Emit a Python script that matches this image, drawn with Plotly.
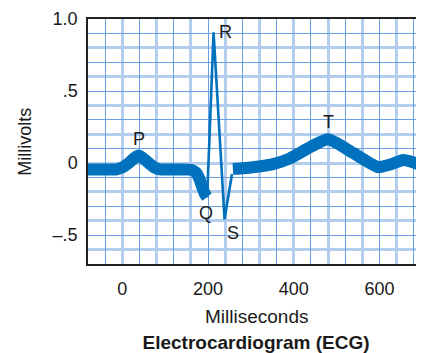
import plotly.graph_objects as go

# ---- data (ms, mV) ----
pwave_ms = [-80, -40, -15, 0, 15, 28, 38, 48, 62, 75, 88, 120, 160, 172, 180, 187, 193, 198]
pwave_mv = [-0.044, -0.044, -0.044, -0.03, 0.0, 0.035, 0.052, 0.035, 0.0, -0.03, -0.044, -0.044, -0.046, -0.065, -0.11, -0.17, -0.215, -0.235]

qrs_ms = [198, 213, 238.6, 256]
qrs_mv = [-0.238, 0.907, -0.39, -0.075]

stt_ms = [258, 275, 314, 352, 391, 430, 480, 539, 597, 625, 655, 680, 706]
stt_mv = [-0.04, -0.037, -0.025, -0.007, 0.033, 0.097, 0.165, 0.07, -0.028, -0.01, 0.021, 0.005, -0.027]

wave_labels = ["P", "Q", "R", "S", "T"]
label_ms = [38.6, 196, 241, 258, 480.5]
label_mv = [0.17, -0.345, 0.91, -0.488, 0.287]

x_ticks = [0, 200, 400, 600]
y_ticks = [1.0, 0.5, 0.0, -0.5]
y_ticktext = ["1.0", ".5", "0", "\u2013.5"]

XR = [-80, 704]
YR = [-0.7, 1.0]
BLUE = "#0071bc"
FONT = "Liberation Sans, Arial, Helvetica, sans-serif"
TXT = "#1a1a1a"
W, H = 416, 345

fig = go.Figure()

# invisible traces to bind grid overlay axes
fig.add_trace(go.Scatter(x=[XR[0]], y=[YR[0]], xaxis="x2", yaxis="y2", mode="markers",
                         marker=dict(opacity=0), showlegend=False, hoverinfo="skip"))
fig.add_trace(go.Scatter(x=[XR[0]], y=[YR[0]], xaxis="x3", yaxis="y3", mode="markers",
                         marker=dict(opacity=0), showlegend=False, hoverinfo="skip"))

fig.add_trace(go.Scatter(x=pwave_ms, y=pwave_mv, mode="lines",
                         line=dict(color=BLUE, width=12, shape="spline", smoothing=0.6),
                         showlegend=False))
fig.add_trace(go.Scatter(x=stt_ms, y=stt_mv, mode="lines",
                         line=dict(color=BLUE, width=12, shape="spline", smoothing=0.5),
                         showlegend=False))
fig.add_trace(go.Scatter(x=qrs_ms, y=qrs_mv, mode="lines",
                         line=dict(color=BLUE, width=2.6),
                         showlegend=False))

for t, xm, ym in zip(wave_labels, label_ms, label_mv):
    fig.add_annotation(x=xm, y=ym, text=t, showarrow=False,
                       font=dict(family=FONT, size=18, color=TXT))

fig.add_annotation(xref="paper", yref="paper", x=-0.19, y=0.5, text="Millivolts",
                   textangle=-90, showarrow=False, xanchor="center", yanchor="middle",
                   font=dict(family=FONT, size=18, color=TXT))
fig.add_annotation(xref="paper", yref="paper", x=0.5, y=-0.216, text="Milliseconds",
                   showarrow=False, xanchor="center", yanchor="middle",
                   font=dict(family=FONT, size=19, color=TXT))

LIGHT = "#b2cdee"
MED = "#6a9ee0"

fig.update_layout(
    width=W, height=H,
    margin=dict(l=80, r=0, t=11, b=89),
    paper_bgcolor="white", plot_bgcolor="white",
    title=dict(text="<b>Electrocardiogram (ECG)</b>", x=0.5, xref="paper", xanchor="center",
               y=(H - 334) / H, yanchor="middle",
               font=dict(family=FONT, size=19, color=TXT)),
    xaxis=dict(range=XR, tickvals=x_ticks, showgrid=False, zeroline=False,
               showline=True, linecolor="#222", linewidth=1.5, mirror=True,
               ticks="", ticklabelstandoff=8,
               tickfont=dict(family=FONT, size=18, color=TXT)),
    yaxis=dict(range=YR, tickvals=y_ticks, ticktext=y_ticktext, showgrid=False, zeroline=False,
               showline=True, linecolor="#222", linewidth=1.5, mirror=False,
               ticks="", ticklabelstandoff=5,
               tickfont=dict(family=FONT, size=18, color=TXT)),
    xaxis2=dict(range=XR, overlaying="x", tick0=0, dtick=80, showgrid=True, gridcolor=LIGHT,
                gridwidth=2.5, showticklabels=False, zeroline=False, showline=False, ticks=""),
    yaxis2=dict(range=YR, overlaying="y", tick0=0, dtick=0.2, showgrid=True, gridcolor=LIGHT,
                gridwidth=2.5, showticklabels=False, zeroline=False, showline=False, ticks=""),
    xaxis3=dict(range=XR, overlaying="x", tick0=40, dtick=80, showgrid=True, gridcolor=MED,
                gridwidth=1.2, showticklabels=False, zeroline=False, showline=False, ticks=""),
    yaxis3=dict(range=YR, overlaying="y", tick0=0.1, dtick=0.2, showgrid=True, gridcolor=MED,
                gridwidth=1.2, showticklabels=False, zeroline=False, showline=False, ticks=""),
)

fig.write_html("out.html")
